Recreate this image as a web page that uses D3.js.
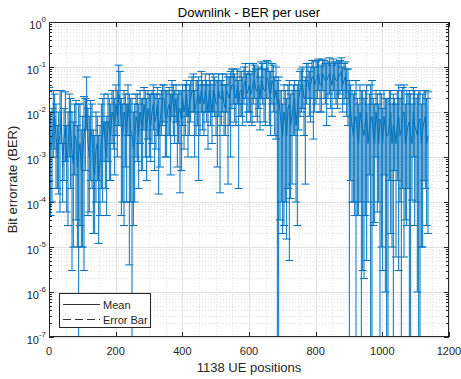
<!DOCTYPE html>
<html>
<head>
<meta charset="utf-8">
<script src="https://cdn.jsdelivr.net/npm/d3@7"></script>
<style>
  body { margin: 0; background: #fff; }
  text { font-family: "Liberation Sans", Arial, sans-serif; }
</style>
</head>
<body>
<svg id="chart" width="461" height="379"></svg>
<script>
// BER per user, two interleaved samples of the UE positions:
// mean, lower and upper end of the error bar (null lower end = bar goes below 1e-7)
const ue = [
  1, 9, 17, 25, 33, 41, 49, 57, 65, 73,
  81, 89, 97, 105, 113, 121, 129, 137, 145, 153,
  161, 169, 177, 185, 193, 201, 209, 217, 225, 233,
  241, 249, 257, 265, 273, 281, 289, 297, 305, 313,
  321, 329, 337, 345, 353, 361, 369, 377, 385, 393,
  401, 409, 417, 425, 433, 441, 449, 457, 465, 473,
  481, 489, 497, 505, 513, 521, 529, 537, 545, 553,
  561, 569, 577, 585, 593, 601, 609, 617, 625, 633,
  641, 649, 657, 665, 673, 681, 689, 697, 705, 713,
  721, 729, 737, 745, 753, 761, 769, 777, 785, 793,
  801, 809, 817, 825, 833, 841, 849, 857, 865, 873,
  881, 889, 897, 905, 913, 921, 929, 937, 945, 953,
  961, 969, 977, 985, 993, 1001, 1009, 1017, 1025, 1033,
  1041, 1049, 1057, 1065, 1073, 1081, 1089, 1097, 1105, 1113,
  1121, 1129, 1137
];
const berMean = [
  4e-3, 2e-3, 8e-3, 1e-3, 3e-3, 6e-4, 5e-3, 1.5e-3, 4e-3, 7e-4,
  2.5e-3, 1.2e-3, 5e-4, 3e-3, 2e-2, 1e-3, 3e-3, 4e-4, 2e-3, 8e-4,
  3e-3, 1.5e-3, 6e-3, 3e-3, 8e-3, 1.5e-2, 2.5e-2, 5e-3, 1e-2, 3e-3,
  7e-3, 3e-3, 2e-3, 6e-3, 1e-2, 4e-3, 8e-3, 1.2e-2, 5e-3, 1.5e-2,
  8e-3, 3e-3, 1.2e-2, 2e-2, 7e-3, 1.5e-2, 2.5e-2, 1e-2, 5e-3, 1.2e-2,
  2e-2, 1.5e-2, 8e-3, 2e-2, 3e-2, 1.5e-2, 2.5e-2, 3e-2, 1.5e-2, 2e-2,
  3e-2, 1e-2, 2.5e-2, 1.5e-2, 2e-2, 3e-2, 1.2e-2, 2.5e-2, 3e-2, 4e-2,
  2e-2, 1.5e-2, 3e-2, 4e-2, 2.5e-2, 4e-2, 3e-2, 5e-2, 3e-2, 2e-2,
  4e-2, 3e-2, 5e-2, 2.5e-2, 4e-2, 3e-2, 2e-2, 5e-3, 1e-2, 3e-3,
  1.5e-2, 8e-3, 2e-2, 1e-2, 3e-2, 4e-2, 2e-2, 5e-2, 4e-2, 6e-2,
  5e-2, 7e-2, 4e-2, 6e-2, 5e-2, 7e-2, 4e-2, 6e-2, 5e-2, 7e-2,
  4e-2, 6e-2, 3e-2, 1e-2, 3e-3, 8e-3, 2e-3, 6e-3, 3e-3, 1e-2,
  4e-3, 8e-3, 2e-3, 5e-3, 7e-3, 2e-3, 4e-3, 3e-3, 1e-2, 5e-3,
  2e-3, 8e-3, 4e-3, 1e-2, 3e-3, 6e-3, 2e-3, 5e-3, 3e-3, 7e-3,
  4e-3, 8e-3, 3e-3
];
const berLow = [
  3e-4, 1e-4, 1.5e-3, 2e-4, 6e-5, 1e-4, 8e-4, 3e-5, 2e-4, 1e-5,
  4e-5, null, 1e-5, 3e-6, 4e-3, 6e-5, 2e-4, 2e-5, 3e-4, 5e-5,
  1e-4, 2e-4, 8e-4, 3e-4, 1.5e-3, 3e-3, 5e-3, 5e-5, 3e-5, 1e-4,
  4e-6, null, 1e-4, 8e-4, 2e-3, 5e-4, 1e-3, 2.5e-3, 8e-4, 4e-3,
  1.5e-3, 1.5e-4, 3e-3, 6e-3, 1e-3, 3e-3, 8e-3, 2e-3, 6e-4, 1.6e-4,
  5e-3, 3e-3, 1e-3, 6e-3, 1e-2, 3e-3, 3e-4, 1e-2, 3e-3, 6e-3,
  1e-2, 2e-3, 8e-3, 6e-4, 1.6e-4, 1e-2, 3e-3, 2.5e-4, 1e-3, 1.5e-2,
  5e-3, 2e-4, 8e-3, 1.5e-2, 6e-3, 1e-2, 5e-3, 2e-2, 6e-3, 4e-3,
  1.5e-2, 5e-3, 2e-2, 3e-3, 1e-2, 2.5e-3, null, 1e-4, 3e-5, 1.5e-5,
  5e-6, 2.5e-4, 3e-3, 3e-5, 8e-3, 1.2e-2, 2.5e-4, 2e-2, 6e-3, 2.5e-3,
  1.5e-2, 3e-2, 1e-2, 2e-2, 5e-3, 2.5e-2, 8e-3, 2e-2, 1.2e-2, 2.5e-2,
  1e-2, 2e-2, 5e-3, 3e-4, 1e-4, null, 5e-5, null, 2e-6, 5e-6,
  4e-4, null, 3.5e-5, 6e-5, null, 3e-6, 1e-6, null, 2e-5, null,
  6e-6, 3e-6, null, 6e-6, 3e-5, null, 1.1e-4, 3e-5, 1e-6, null,
  1e-5, 2e-4, 2e-5
];
const berHigh = [
  3.5e-2, 1.2e-2, 2.5e-2, 5e-3, 3e-2, 2e-3, 2.8e-2, 1e-2, 2e-2, 6e-3,
  1.8e-2, 1.5e-2, 4e-3, 2.2e-2, 6e-2, 8e-3, 1.5e-2, 3e-3, 8e-3, 5e-3,
  2e-2, 6e-3, 2.5e-2, 1.5e-2, 3e-2, 4e-2, 1.1e-1, 2e-2, 3e-2, 1.5e-2,
  2.5e-2, 2e-2, 1.5e-2, 2.5e-2, 3e-2, 2e-2, 3e-2, 3e-2, 2.5e-2, 4e-2,
  2.5e-2, 2e-2, 3e-2, 4e-2, 3e-2, 3.5e-2, 5e-2, 3e-2, 2.5e-2, 3e-2,
  4e-2, 4e-2, 3e-2, 5e-2, 7e-2, 5e-2, 6e-2, 8e-2, 4e-2, 5e-2,
  7e-2, 4e-2, 6e-2, 5e-2, 5e-2, 7e-2, 4e-2, 6e-2, 8e-2, 9e-2,
  6e-2, 5e-2, 8e-2, 1e-1, 7e-2, 1.2e-1, 8e-2, 1.1e-1, 9e-2, 6e-2,
  1.2e-1, 9e-2, 1.3e-1, 8e-2, 1.1e-1, 1e-1, 6e-2, 3e-2, 4e-2, 2e-2,
  5e-2, 3e-2, 5e-2, 4e-2, 8e-2, 1e-1, 6e-2, 1.2e-1, 1e-1, 1.4e-1,
  1.3e-1, 1.5e-1, 1.1e-1, 1.4e-1, 1.2e-1, 1.6e-1, 1.1e-1, 1.3e-1, 1.2e-1, 1.4e-1,
  1e-1, 1.3e-1, 9e-2, 4e-2, 2.5e-2, 5e-2, 1.5e-2, 3e-2, 2e-2, 4e-2,
  2.5e-2, 5e-2, 1.5e-2, 2.5e-2, 3e-2, 1.2e-2, 2e-2, 2e-2, 3e-2, 2.5e-2,
  1.5e-2, 4e-2, 3e-2, 4e-2, 3e-2, 3e-2, 1.5e-2, 3e-2, 2.5e-2, 3e-2,
  2.5e-2, 3e-2, 2.8e-2
];

const ueB = [
  5, 13, 21, 29, 37, 45, 53, 61, 69, 77,
  85, 93, 101, 109, 117, 125, 133, 141, 149, 157,
  165, 173, 181, 189, 197, 205, 213, 221, 229, 237,
  245, 253, 261, 269, 277, 285, 293, 301, 309, 317,
  325, 333, 341, 349, 357, 365, 373, 381, 389, 397,
  405, 413, 421, 429, 437, 445, 453, 461, 469, 477,
  485, 493, 501, 509, 517, 525, 533, 541, 549, 557,
  565, 573, 581, 589, 597, 605, 613, 621, 629, 637,
  645, 653, 661, 669, 677, 685, 693, 701, 709, 717,
  725, 733, 741, 749, 757, 765, 773, 781, 789, 797,
  805, 813, 821, 829, 837, 845, 853, 861, 869, 877,
  885, 893, 901, 909, 917, 925, 933, 941, 949, 957,
  965, 973, 981, 989, 997, 1005, 1013, 1021, 1029, 1037,
  1045, 1053, 1061, 1069, 1077, 1085, 1093, 1101, 1109, 1117,
  1125, 1133
];
const berMeanB = [
  1.5e-3, 6e-3, 3e-3, 2e-3, 1e-2, 2.5e-3, 8e-4, 6e-3, 1.2e-3, 3e-3,
  6e-4, 2e-3, 1e-3, 5e-3, 2e-3, 4e-3, 6e-4, 1.5e-3, 3e-4, 2.5e-3,
  6e-3, 1e-3, 4e-3, 1e-2, 5e-3, 8e-3, 2e-2, 3e-3, 7e-3, 1.5e-2,
  4e-3, 1.5e-3, 8e-3, 3e-3, 6e-3, 1.5e-2, 4e-3, 7e-3, 1e-2, 6e-3,
  1.5e-2, 6e-3, 2e-2, 8e-3, 1.2e-2, 6e-3, 1.5e-2, 2e-2, 1e-2, 7e-3,
  1e-2, 2.5e-2, 1.5e-2, 3e-2, 1e-2, 2e-2, 1.5e-2, 2e-2, 3e-2, 1e-2,
  2e-2, 3e-2, 1.5e-2, 3e-2, 2e-2, 1.5e-2, 3e-2, 2e-2, 4e-2, 2.5e-2,
  4e-2, 3e-2, 2e-2, 5e-2, 3e-2, 2.5e-2, 5e-2, 3e-2, 4e-2, 5e-2,
  3e-2, 6e-2, 3e-2, 5e-2, 2e-2, 1.5e-2, 1e-2, 3e-3, 6e-3, 1.2e-2,
  5e-3, 1.5e-2, 5e-3, 2e-2, 4e-2, 2e-2, 5e-2, 3e-2, 6e-2, 4e-2,
  6e-2, 4e-2, 7e-2, 5e-2, 6e-2, 5e-2, 7e-2, 5e-2, 6e-2, 8e-2,
  5e-2, 3e-2, 2e-2, 5e-3, 6e-3, 3e-3, 1e-2, 4e-3, 6e-3, 2e-3,
  6e-3, 3e-3, 1e-2, 2e-3, 5e-3, 8e-3, 3e-3, 6e-3, 2e-3, 4e-3,
  6e-3, 3e-3, 8e-3, 2e-3, 5e-3, 3e-3, 1e-2, 4e-3, 6e-3, 2e-3,
  6e-3, 2e-3
];
const berLowB = [
  5e-5, 1e-3, 2e-4, 1.5e-4, 2e-3, 3e-4, 6e-5, 1e-3, 3e-6, 4e-4,
  1e-5, 3e-5, 1e-5, 5e-4, 5e-5, 3e-4, 2e-5, 1e-4, 1.2e-5, 2e-4,
  8e-4, 5e-5, 3e-4, 2e-3, 4e-4, 1e-3, 5e-3, 1e-4, 6e-4, 3e-3,
  1e-4, 3e-5, 1e-3, 2e-4, 5e-4, 4e-3, 3e-4, 1e-3, 2e-3, 5e-4,
  3e-3, 6e-4, 5e-3, 1e-3, 3e-3, 4e-4, 3e-3, 6e-3, 2e-3, 5e-4,
  1.5e-3, 8e-3, 3e-3, 1e-2, 1e-3, 5e-3, 3e-3, 4e-3, 1e-2, 1.5e-3,
  5e-3, 1e-2, 3e-3, 8e-3, 5e-3, 3e-3, 1e-2, 5e-3, 1.2e-2, 6e-3,
  1.5e-2, 8e-3, 5e-3, 2e-2, 1e-2, 6e-3, 1.5e-2, 8e-3, 1.2e-2, 2e-2,
  6e-3, 2e-2, 5e-3, 1.5e-2, 3e-3, null, 4e-5, 2e-5, 1e-4, 2e-4,
  1.2e-4, 3e-3, 1e-4, 4e-3, 1e-2, 3e-3, 1.5e-2, 8e-3, 2e-2, 1e-2,
  2e-2, 1e-2, 3e-2, 1.5e-2, 2e-2, 1.2e-2, 3e-2, 1.5e-2, 2e-2, 3e-2,
  1.5e-2, 8e-3, null, 1e-4, 5e-5, 5e-5, 1e-4, 3e-6, 5e-5, 1e-4,
  null, 3e-5, 1e-3, 1e-4, 1e-5, 4e-4, null, 3e-4, 1e-5, 5e-4,
  3e-4, 1e-4, 2e-4, 4e-5, 2e-4, null, 1e-3, 1e-4, null, 1e-5,
  3e-4, 3e-5
];
const berHighB = [
  1e-2, 3e-2, 1.5e-2, 1e-2, 3e-2, 1.2e-2, 5e-3, 2.5e-2, 1e-2, 1.5e-2,
  5e-3, 1.5e-2, 8e-3, 2e-2, 1.2e-2, 1.8e-2, 4e-3, 1e-2, 3e-3, 1.5e-2,
  2.5e-2, 8e-3, 2e-2, 3e-2, 2e-2, 3e-2, 8e-2, 1.5e-2, 2.5e-2, 4e-2,
  2e-2, 1e-2, 2.5e-2, 1.5e-2, 2e-2, 3.5e-2, 2e-2, 2.5e-2, 3e-2, 2.5e-2,
  3.5e-2, 2.5e-2, 4e-2, 3e-2, 3e-2, 2.5e-2, 4e-2, 4e-2, 3e-2, 3e-2,
  3e-2, 5e-2, 4e-2, 6e-2, 3e-2, 5e-2, 4e-2, 5e-2, 7e-2, 4e-2,
  5e-2, 7e-2, 5e-2, 7e-2, 5e-2, 4e-2, 7e-2, 6e-2, 9e-2, 7e-2,
  9e-2, 8e-2, 6e-2, 1.2e-1, 8e-2, 7e-2, 1.2e-1, 9e-2, 1e-1, 1.3e-1,
  9e-2, 1.4e-1, 8e-2, 1.2e-1, 6e-2, 5e-2, 3e-2, 1.5e-2, 3e-2, 4e-2,
  2.5e-2, 4e-2, 3e-2, 5e-2, 9e-2, 5e-2, 1.2e-1, 8e-2, 1.4e-1, 1e-1,
  1.4e-1, 1e-1, 1.5e-1, 1.2e-1, 1.3e-1, 1.2e-1, 1.5e-1, 1.2e-1, 1.3e-1, 1.6e-1,
  1.2e-1, 9e-2, 5e-2, 3e-2, 3e-2, 2e-2, 4e-2, 3e-2, 3e-2, 1.5e-2,
  4e-2, 2e-2, 3e-2, 1.5e-2, 2.5e-2, 3e-2, 2e-2, 3e-2, 1.5e-2, 2e-2,
  3e-2, 2e-2, 3.5e-2, 1.5e-2, 2.5e-2, 2.5e-2, 3.5e-2, 2e-2, 3e-2, 1.5e-2,
  3e-2, 2e-2
];

const xTicks = [0, 200, 400, 600, 800, 1000, 1200];
const yExponents = [-7, -6, -5, -4, -3, -2, -1, 0];
const legendItems = ['Mean', 'Error Bar'];

const blue = '#0072bd';
const axisColor = '#262626';

const svg = d3.select('#chart');
const plotL = 49, plotR = 449, plotT = 22, plotB = 337;

const x = d3.scaleLinear().domain([0, 1200]).range([plotL, plotR]);
const y = d3.scaleLog().domain([1e-7, 1]).range([plotB, plotT]).clamp(true);

const yMajor = yExponents.map(e => Math.pow(10, e));
const yMinor = [];
yExponents.slice(0, -1).forEach(e => {
  for (let m = 2; m <= 9; m++) yMinor.push(m * Math.pow(10, e));
});
const xMinor = d3.range(0, 1201, 50).filter(v => v % 200 !== 0);

const crisp = v => Math.round(v) + 0.5;

// grid
const grid = svg.append('g');
grid.selectAll('.ymin').data(yMinor).join('line')
  .attr('x1', plotL).attr('x2', plotR)
  .attr('y1', d => crisp(y(d))).attr('y2', d => crisp(y(d)))
  .attr('stroke', '#e2e2e2').attr('stroke-dasharray', '1,2');
grid.selectAll('.xmin').data(xMinor).join('line')
  .attr('y1', plotT).attr('y2', plotB)
  .attr('x1', d => crisp(x(d))).attr('x2', d => crisp(x(d)))
  .attr('stroke', '#e2e2e2').attr('stroke-dasharray', '1,2');
grid.selectAll('.ymaj').data(yMajor).join('line')
  .attr('x1', plotL).attr('x2', plotR)
  .attr('y1', d => crisp(y(d))).attr('y2', d => crisp(y(d)))
  .attr('stroke', '#e0e0e0');
grid.selectAll('.xmaj').data(xTicks).join('line')
  .attr('y1', plotT).attr('y2', plotB)
  .attr('x1', d => crisp(x(d))).attr('x2', d => crisp(x(d)))
  .attr('stroke', '#e0e0e0');

// data
svg.append('clipPath').attr('id', 'plot')
  .append('rect').attr('x', plotL).attr('y', plotT)
  .attr('width', plotR - plotL).attr('height', plotB - plotT);

const pts = ue.map((u, i) => ({ u, m: berMean[i], lo: berLow[i], hi: berHigh[i] }))
  .concat(ueB.map((u, i) => ({ u, m: berMeanB[i], lo: berLowB[i], hi: berHighB[i] })))
  .sort((a, b) => a.u - b.u);

const plot = svg.append('g').attr('clip-path', 'url(#plot)');
const cap = 4;

const bars = plot.append('g').attr('stroke', blue).attr('stroke-width', 1).attr('fill', 'none');
bars.selectAll('.bar').data(pts).join('line')
  .attr('x1', d => x(d.u)).attr('x2', d => x(d.u))
  .attr('y1', d => y(d.hi))
  .attr('y2', d => d.lo === null ? plotB + 2 : y(d.lo));
bars.selectAll('.capHi').data(pts).join('line')
  .attr('x1', d => x(d.u) - cap).attr('x2', d => x(d.u) + cap)
  .attr('y1', d => y(d.hi)).attr('y2', d => y(d.hi));
bars.selectAll('.capLo').data(pts.filter(d => d.lo !== null)).join('line')
  .attr('x1', d => x(d.u) - cap).attr('x2', d => x(d.u) + cap)
  .attr('y1', d => y(d.lo)).attr('y2', d => y(d.lo));

plot.append('path').datum(pts)
  .attr('fill', 'none').attr('stroke', blue).attr('stroke-width', 1)
  .attr('d', d3.line().x(d => x(d.u)).y(d => y(d.m)));

// axes box and ticks
const ax = svg.append('g').attr('stroke', axisColor).attr('stroke-width', 1);
ax.append('rect').attr('x', plotL + 0.5).attr('y', plotT + 0.5)
  .attr('width', plotR - plotL - 1).attr('height', plotB - plotT - 1).attr('fill', 'none');
xTicks.forEach(t => {
  const px = crisp(x(t));
  ax.append('line').attr('x1', px).attr('x2', px).attr('y1', plotB).attr('y2', plotB - 5);
  ax.append('line').attr('x1', px).attr('x2', px).attr('y1', plotT).attr('y2', plotT + 5);
});
yMajor.forEach(t => {
  const py = crisp(y(t));
  ax.append('line').attr('x1', plotL).attr('x2', plotL + 5).attr('y1', py).attr('y2', py);
  ax.append('line').attr('x1', plotR).attr('x2', plotR - 5).attr('y1', py).attr('y2', py);
});
yMinor.forEach(t => {
  const py = crisp(y(t));
  ax.append('line').attr('x1', plotL).attr('x2', plotL + 3).attr('y1', py).attr('y2', py);
  ax.append('line').attr('x1', plotR).attr('x2', plotR - 3).attr('y1', py).attr('y2', py);
});

// tick labels
svg.append('g').selectAll('text').data(xTicks).join('text')
  .attr('x', d => x(d)).attr('y', plotB + 18)
  .attr('text-anchor', 'middle').attr('font-size', 11).attr('fill', axisColor)
  .text(d => d);

const yl = svg.append('g').selectAll('text').data(yExponents).join('text')
  .attr('x', 46).attr('y', d => y(Math.pow(10, d)) + 7)
  .attr('text-anchor', 'end').attr('font-size', 11).attr('fill', axisColor);
yl.append('tspan').text('10');
yl.append('tspan').attr('dy', -7).attr('font-size', 8).text(d => d === 0 ? '0' : '-' + Math.abs(d));

// titles
svg.append('text').attr('x', (plotL + plotR) / 2).attr('y', 16.5)
  .attr('text-anchor', 'middle').attr('font-size', 13).attr('fill', '#000')
  .text('Downlink - BER per user');
svg.append('text').attr('x', (plotL + plotR) / 2).attr('y', 372)
  .attr('text-anchor', 'middle').attr('font-size', 13).attr('fill', axisColor)
  .text('1138 UE positions');
svg.append('text')
  .attr('transform', `translate(17, ${(plotT + plotB) / 2}) rotate(-90)`)
  .attr('text-anchor', 'middle').attr('font-size', 13).attr('fill', axisColor)
  .text('Bit errorrate (BER)');

// legend
const lg = svg.append('g').attr('transform', 'translate(59,293)');
lg.append('rect').attr('x', 0.5).attr('y', 0.5).attr('width', 91).attr('height', 34)
  .attr('fill', '#fff').attr('stroke', axisColor);
legendItems.forEach((name, i) => {
  const ly = 11.5 + i * 15;
  lg.append('line').attr('x1', 4).attr('x2', 41).attr('y1', ly).attr('y2', ly)
    .attr('stroke', '#333').attr('stroke-width', 1)
    .attr('stroke-dasharray', i === 1 ? '8,4' : null);
  lg.append('text').attr('x', 44).attr('y', ly + 4).attr('font-size', 11)
    .attr('fill', axisColor).text(name);
});
</script>
</body>
</html>
